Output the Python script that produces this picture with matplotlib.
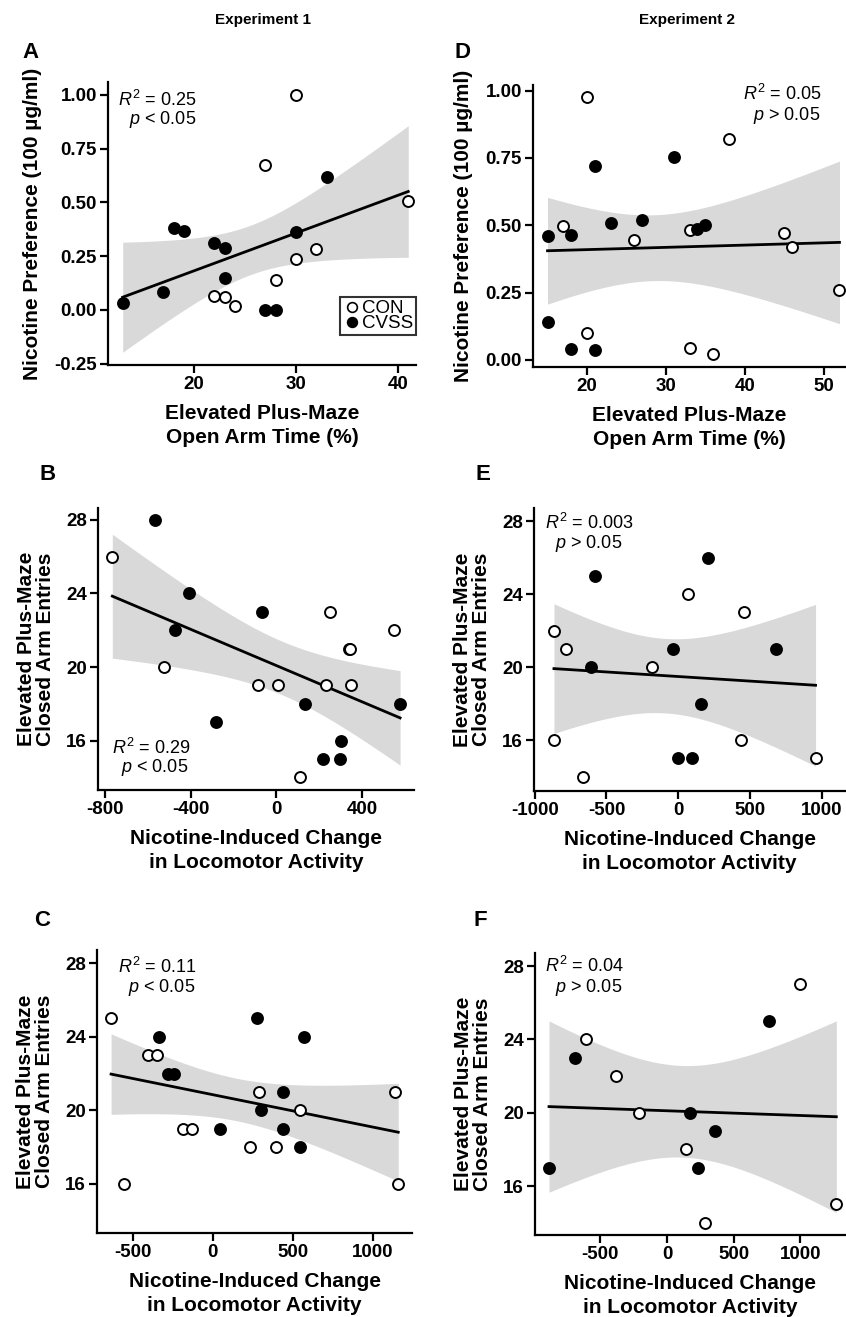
import numpy as np
import matplotlib
matplotlib.use('Agg')
import matplotlib.pyplot as plt
from matplotlib.lines import Line2D

plt.rcParams['font.family'] = ['Liberation Sans', 'DejaVu Sans']
plt.rcParams['mathtext.fontset'] = 'custom'
plt.rcParams['mathtext.rm'] = 'Liberation Sans'
plt.rcParams['mathtext.it'] = 'Liberation Sans:italic'
plt.rcParams['axes.unicode_minus'] = False

# Panel A - Experiment 1, open arm time vs nicotine preference
a_con_x = [30, 27, 41, 32, 30, 28, 22, 23, 24]
a_con_y = [1.00, 0.676, 0.505, 0.282, 0.236, 0.138, 0.067, 0.060, 0.017]
a_cvss_x = [13, 17, 18, 19, 22, 23, 23, 30, 33, 27, 28]
a_cvss_y = [0.034, 0.085, 0.380, 0.367, 0.312, 0.287, 0.150, 0.361, 0.617, 0.0, 0.0]

# Panel D - Experiment 2
d_con_x = [20, 38, 17, 26, 33, 45, 46, 52, 20, 33, 36]
d_con_y = [0.978, 0.819, 0.496, 0.446, 0.481, 0.473, 0.421, 0.261, 0.100, 0.043, 0.022]
d_cvss_x = [15, 18, 21, 23, 27, 31, 34, 35, 15, 18, 21]
d_cvss_y = [0.459, 0.463, 0.720, 0.510, 0.519, 0.755, 0.485, 0.500, 0.142, 0.041, 0.036]

# Panel B - Experiment 1, locomotor change vs closed arm entries
b_con_x = [-767, -527, -86, 5, 234, 251, 338, 345, 349, 550, 112]
b_con_y = [26, 20, 19, 19, 19, 23, 21, 21, 19, 22, 14]
b_cvss_x = [-566, -410, -474, -67, -284, 134, 218, 298, 304, 578]
b_cvss_y = [28, 24, 22, 23, 17, 18, 15, 15, 16, 18]

# Panel E - Experiment 2
e_con_x = [-866, -785, -866, -664, -186, 65, 457, 437, 957]
e_con_y = [22, 21, 16, 14, 20, 24, 23, 16, 15]
e_cvss_x = [-583, -608, -39, 204, 158, -2, 93, 683]
e_cvss_y = [25, 20, 21, 26, 18, 15, 15, 21]

# Panel C - Experiment 1
c_con_x = [-635, -552, -406, -348, -183, -129, 231, 398, 292, 546, 1137, 1160]
c_con_y = [25, 16, 23, 23, 19, 19, 18, 18, 21, 20, 21, 16]
c_cvss_x = [-338, -281, -242, 48, 277, 302, 437, 442, 548, 571]
c_cvss_y = [24, 22, 22, 19, 25, 20, 21, 19, 18, 24]

# Panel F - Experiment 2
f_con_x = [-605, -385, -212, 145, 285, 998, 1270]
f_con_y = [24, 22, 20, 18, 14, 27, 15]
f_cvss_x = [-885, -692, 170, 362, 230, 762]
f_cvss_y = [17, 23, 20, 19, 17, 25]

W, H = 846, 1317
fig = plt.figure(figsize=(W / 100, H / 100), dpi=100)


def px_axes(l, r, t, b):
    return fig.add_axes([l / W, 1 - b / H, (r - l) / W, (b - t) / H])


def ftext(x, y, s, **kw):
    fig.text(x / W, 1 - y / H, s, **kw)


def panel(ax, cx, cy, fx, fy, xlim, ylim, xticks, yticks, yfmt, xlabel, ylabel, ypad):
    x = np.array(cx + fx, dtype=float)
    y = np.array(cy + fy, dtype=float)
    n = len(x)
    # regresion lineal con banda de confianza 95%
    b1, b0 = np.polyfit(x, y, 1)
    res = y - (b0 + b1 * x)
    s = np.sqrt(np.sum(res ** 2) / (n - 2))
    sxx = np.sum((x - x.mean()) ** 2)
    t = 1.96 + 2.5 / (n - 2)
    xs = np.linspace(x.min(), x.max(), 200)
    ys = b0 + b1 * xs
    se = s * np.sqrt(1 / n + (xs - x.mean()) ** 2 / sxx)
    ax.fill_between(xs, ys - t * se, ys + t * se, color='#d9d9d9', lw=0, zorder=1)
    ax.plot(xs, ys, color='black', lw=2.0, zorder=2)
    ax.scatter(cx, cy, s=62, facecolor='white', edgecolor='black', lw=1.4, zorder=3)
    ax.scatter(fx, fy, s=62, facecolor='black', edgecolor='black', lw=1.4, zorder=3)
    ax.set_xlim(xlim)
    ax.set_ylim(ylim)
    ax.set_xticks(xticks)
    ax.set_yticks(yticks)
    ax.set_yticklabels([yfmt.format(v) for v in yticks])
    for sp in ['top', 'right']:
        ax.spines[sp].set_visible(False)
    for sp in ['left', 'bottom']:
        ax.spines[sp].set_linewidth(1.6)
    ax.tick_params(width=1.6, length=6, labelsize=13.5, pad=2)
    for lab in ax.get_xticklabels() + ax.get_yticklabels():
        lab.set_fontweight('bold')
    ax.set_xlabel(xlabel, fontsize=15, fontweight='bold', labelpad=8, linespacing=1.3)
    ax.set_ylabel(ylabel, fontsize=15, fontweight='bold', labelpad=ypad, linespacing=1.0)


xl_epm = 'Elevated Plus-Maze\nOpen Arm Time (%)'
xl_loc = 'Nicotine-Induced Change\nin Locomotor Activity'
yl_pref = 'Nicotine Preference (100 \u00b5g/ml)'
yl_cae = 'Elevated Plus-Maze\nClosed Arm Entries'

axA = px_axes(108, 416, 82, 365)
panel(axA, a_con_x, a_con_y, a_cvss_x, a_cvss_y, (11.56, 41.76), (-0.256, 1.06),
      [20, 30, 40], [-0.25, 0, 0.25, 0.5, 0.75, 1.0], '{:.2f}', xl_epm, yl_pref, 9)
axD = px_axes(533, 845, 85, 367)
panel(axD, d_con_x, d_con_y, d_cvss_x, d_cvss_y, (13.16, 52.7), (-0.026, 1.021),
      [20, 30, 40, 50], [0, 0.25, 0.5, 0.75, 1.0], '{:.2f}', xl_epm, yl_pref, 9)
axB = px_axes(98, 414, 508, 790)
panel(axB, b_con_x, b_con_y, b_cvss_x, b_cvss_y, (-834, 643), (13.31, 28.65),
      [-800, -400, 0, 400], [16, 20, 24, 28], '{:d}', xl_loc, yl_cae, 8)
axE = px_axes(534, 845, 508, 791)
panel(axE, e_con_x, e_con_y, e_cvss_x, e_cvss_y, (-1005, 1162), (13.21, 28.72),
      [-1000, -500, 0, 500, 1000], [16, 20, 24, 28], '{:d}', xl_loc, yl_cae, 8)
axC = px_axes(97, 412, 950, 1233)
panel(axC, c_con_x, c_con_y, c_cvss_x, c_cvss_y, (-723, 1246), (13.33, 28.72),
      [-500, 0, 500, 1000], [16, 20, 24, 28], '{:d}', xl_loc, yl_cae, 8)
axF = px_axes(535, 845, 953, 1235)
panel(axF, f_con_x, f_con_y, f_cvss_x, f_cvss_y, (-990, 1335), (13.33, 28.71),
      [-500, 0, 500, 1000], [16, 20, 24, 28], '{:d}', xl_loc, yl_cae, 8)

# leyenda
handles = [Line2D([], [], marker='o', ls='', mfc='white', mec='black', ms=7, mew=1.2, label='CON'),
           Line2D([], [], marker='o', ls='', mfc='black', mec='black', ms=7, mew=1.2, label='CVSS')]
leg = axA.legend(handles=handles, loc='lower right', bbox_to_anchor=(1.0, 0.105), fontsize=13.5,
                 frameon=True, fancybox=False, edgecolor='black', handletextpad=0.1,
                 handlelength=0.9, borderpad=0.15, labelspacing=-0.1, borderaxespad=0)
leg.get_frame().set_linewidth(1.5)

# titulos
ftext(263, 20, 'Experiment 1', fontsize=11, fontweight='bold', ha='center', va='center')
ftext(687, 20, 'Experiment 2', fontsize=11, fontweight='bold', ha='center', va='center')
for lx, ly, lt in [(30, 52, 'A'), (462, 52, 'D'), (48, 475, 'B'), (483, 475, 'E'),
                   (42, 920, 'C'), (480, 920, 'F')]:
    ftext(lx, ly, lt, fontsize=16, fontweight='bold', ha='center', va='center')

# estadisticos
stats = [(118, 100, r'$R^2$ = 0.25', 129, 120, r'$p$ < 0.05'),
         (743, 94, r'$R^2$ = 0.05', 753, 115, r'$p$ > $\mathit{0.05}$'),
         (112, 748, r'$R^2$ = 0.29', 121, 768, r'$p$ < 0.05'),
         (545, 523, r'$R^2$ = 0.003', 555, 544, r'$p$ > 0.05'),
         (118, 967, r'$R^2$ = 0.11', 128, 988, r'$p$ < $\mathit{0.05}$'),
         (545, 966, r'$R^2$ = 0.04', 555, 987, r'$p$ > 0.05')]
for x1, y1, s1, x2, y2, s2 in stats:
    ftext(x1, y1, s1, fontsize=13, ha='left', va='center')
    ftext(x2, y2, s2, fontsize=13, ha='left', va='center')

plt.savefig('out.png', dpi=100)
